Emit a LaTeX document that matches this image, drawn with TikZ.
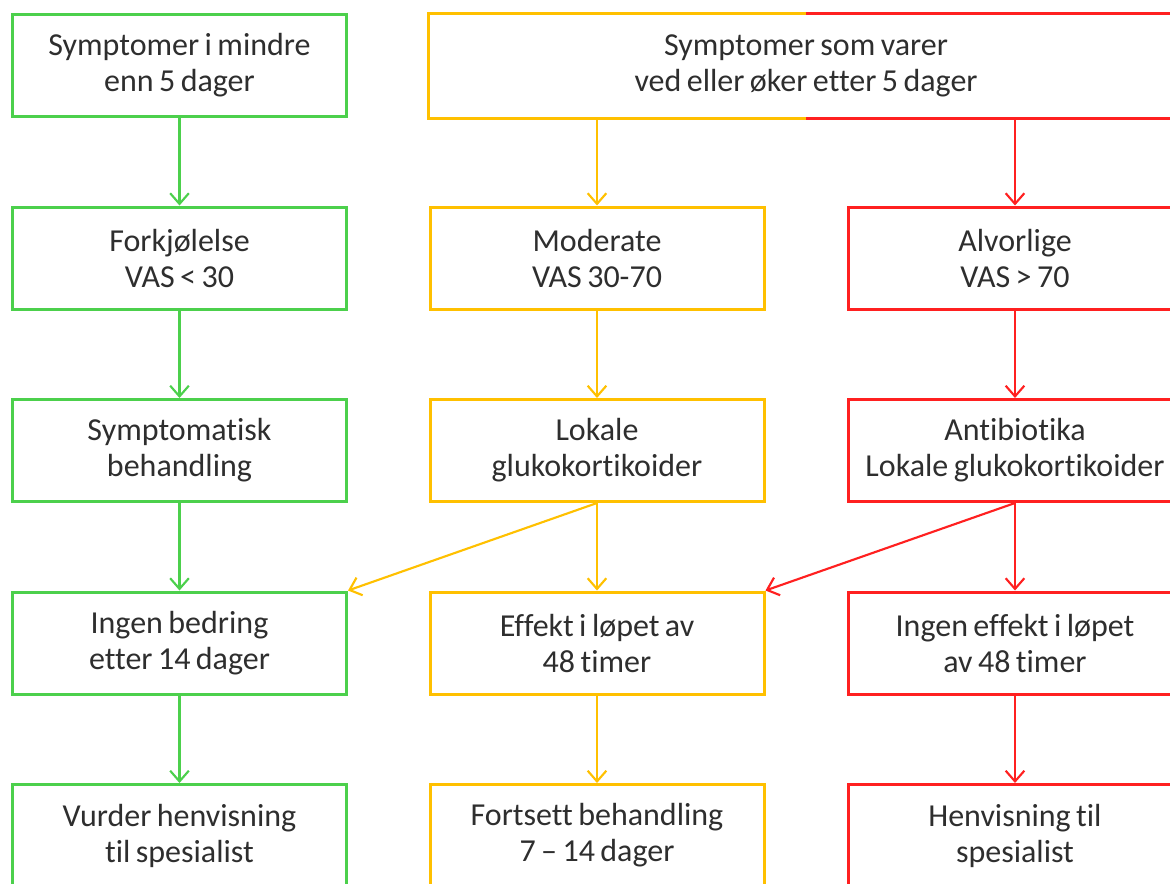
\documentclass[tikz,border=0pt]{standalone}
\usepackage{fontspec}
\setmainfont{Carlito}[Ligatures=NoCommon, WordSpace=0.75]
\usetikzlibrary{arrows.meta}

\definecolor{grn}{RGB}{76,208,76}
\definecolor{ylw}{RGB}{255,192,0}
\definecolor{rd}{RGB}{255,32,32}

\tikzset{every picture/.style={line width=0.75pt}}
\tikzset{
	box/.style={rectangle, minimum width=250.5pt, minimum height=76.5pt, inner sep=0pt, line width=2.25pt, align=center, text=black!82, font=\fontsize{24}{27}\selectfont},
	gbox/.style={box, draw=grn},
	ybox/.style={box, draw=ylw},
	rbox/.style={box, draw=rd},
	arr/.style={line width=1.6pt, -{Straight Barb[length=8pt,width=14pt,line width=1.6pt]}},
	garr/.style={arr, draw=grn},
	yarr/.style={arr, draw=ylw},
	rarr/.style={arr, draw=rd},
}

\begin{document}
\begin{tikzpicture}[x=0.75pt,y=0.75pt,yscale=-1,xscale=1]
	\useasboundingbox (0,0) rectangle (1170,883);
	\clip (0,0) rectangle (1170,883);

	% Row 1
	\node[gbox] (kort) at (179.5,65.5) {Symptomer i mindre\\enn 5 dager};
	\node[box, minimum width=564pt] (lang) at (806,65.5) {Symptomer som varer\\ved eller øker etter 5 dager};
	%two-coloured border
	\draw[ylw, line width=2.25pt] (lang.north) -- (lang.north west) -- (lang.south west) -- (lang.south);
	\draw[rd, line width=2.25pt] (lang.north) -- (lang.north east) -- (lang.south east) -- (lang.south);

	% Row 2
	\node[gbox] (forkj) at (179.5,258) {Forkjølelse\\VAS < 30};
	\node[ybox] (moder) at (597,258) {Moderate\\VAS 30-70};
	\node[rbox] (alvor) at (1015,258) {Alvorlige\\VAS > 70};

	% Row 3
	\node[gbox] (sympt) at (179.5,450.5) {Symptomatisk\\behandling};
	\node[ybox] (lokale) at (597,450.5) {Lokale\\glukokortikoider};
	\node[rbox] (anti) at (1015,450.5) {Antibiotika\\Lokale glukokortikoider};

	% Row 4
	\node[gbox] (ingen) at (179.5,643) {Ingen bedring\\etter 14 dager};
	\node[ybox] (effekt) at (597,643) {Effekt i løpet av\\48 timer};
	\node[rbox] (ingeneff) at (1015,643) {Ingen effekt i løpet\\av 48 timer};

	% Row 5
	\node[gbox] (vurder) at (179.5,835.5) {Vurder henvisning\\til spesialist};
	\node[ybox] (fortsett) at (597,835.5) {Fortsett behandling\\7 – 14 dager};
	\node[rbox] (henv) at (1015,835.5) {Henvisning til\\spesialist};

	% Arrows
	\draw[garr] (kort.south) -- (forkj.north);
	\draw[garr] (forkj.south) -- (sympt.north);
	\draw[garr] (sympt.south) -- (ingen.north);
	\draw[garr] (ingen.south) -- (vurder.north);

	\draw[yarr] (moder.north |- lang.south) -- (moder.north);
	\draw[yarr] (moder.south) -- (lokale.north);
	\draw[yarr] (lokale.south) -- (effekt.north);
	\draw[yarr] (effekt.south) -- (fortsett.north);
	\draw[yarr] (lokale.south) -- (ingen.north east);

	\draw[rarr] (alvor.north |- lang.south) -- (alvor.north);
	\draw[rarr] (alvor.south) -- (anti.north);
	\draw[rarr] (anti.south) -- (ingeneff.north);
	\draw[rarr] (ingeneff.south) -- (henv.north);
	\draw[rarr] (anti.south) -- (effekt.north east);

\end{tikzpicture}
\end{document}
